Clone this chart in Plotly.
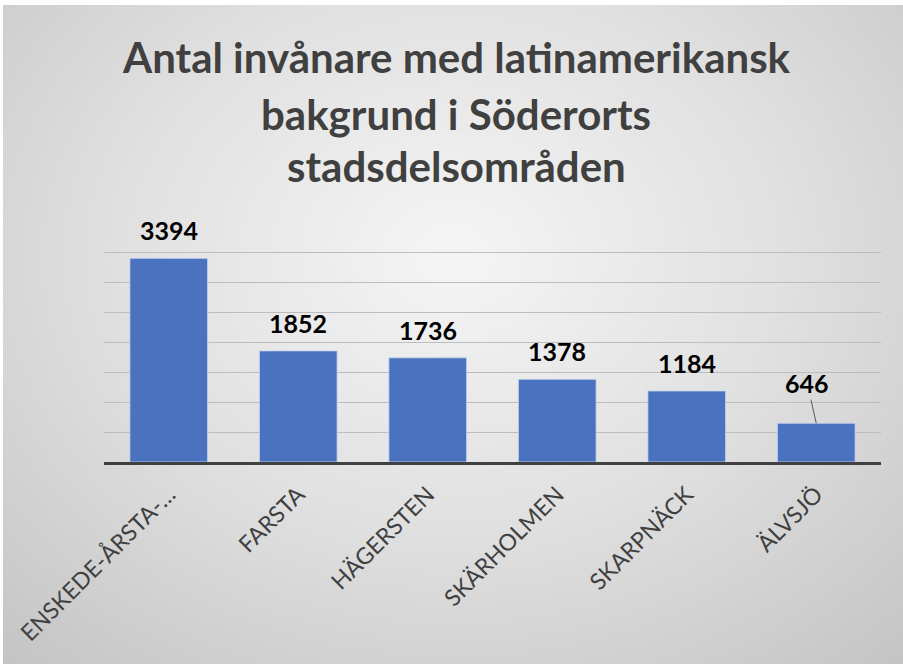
import numpy as np
import plotly.graph_objects as go

# ---- data ----
categories = ["ENSKEDE-ÅRSTA-…", "FARSTA", "HÄGERSTEN", "SKÄRHOLMEN", "SKARPNÄCK", "ÄLVSJÖ"]
values = [3394, 1852, 1736, 1378, 1184, 646]
title_lines = ["Antal invånare med latinamerikansk", "bakgrund i Söderorts", "stadsdelsområden"]

W, H = 903, 664

# ---- background radial gradient (style only) ----
gx = np.linspace(0, 1, 40)
gy = np.linspace(0, 1, 40)
XX, YY = np.meshgrid(gx, gy)
dist = np.sqrt(((XX - 0.5) * 1.0) ** 2 + ((YY - 0.62) * 0.9) ** 2)
dist = dist / dist.max()

fig = go.Figure()
fig.add_trace(go.Heatmap(
    x=gx, y=gy, z=dist, zmin=0, zmax=1, zsmooth="best",
    colorscale=[[0, "#f5f5f5"], [0.5, "#e0e0e0"], [1, "#c4c4c4"]],
    showscale=False, hoverinfo="skip", xaxis="x", yaxis="y",
))

fig.add_trace(go.Bar(
    x=categories, y=values, xaxis="x2", yaxis="y2",
    marker=dict(color="#4a72bf", line=dict(color="rgba(200,215,240,0.8)", width=1)),
    hoverinfo="skip",
))

label_font = dict(family="Lato", size=25, color="#000000")
annotations = []
for i, (c, v) in enumerate(zip(categories, values)):
    if i == len(values) - 1:
        annotations.append(dict(
            x=c, y=v, xref="x2", yref="y2", text="<b>" + str(v) + "</b>", showarrow=True,
            arrowhead=0, arrowwidth=1, arrowcolor="#595959", ax=-9, ay=-40,
            font=label_font,
        ))
    else:
        annotations.append(dict(
            x=c, y=v, xref="x2", yref="y2", text="<b>" + str(v) + "</b>", showarrow=False,
            yanchor="middle", yshift=28, font=label_font,
        ))

title_y = [57, 114, 166]
for t, yy in zip(title_lines, title_y):
    annotations.append(dict(
        x=456 / W, y=1 - yy / H, xref="paper", yref="paper", text="<b>" + t + "</b>",
        showarrow=False, xanchor="center", yanchor="middle",
        font=dict(family="Lato", size=42, color="#404040"),
    ))

fig.update_layout(
    width=W, height=H,
    margin=dict(l=0, r=0, t=0, b=0, autoexpand=False),
    paper_bgcolor="#ffffff",
    plot_bgcolor="rgba(0,0,0,0)",
    showlegend=False,
    bargap=0.4,
    xaxis=dict(domain=[3 / W, 1], range=[0, 1], visible=False, fixedrange=True, automargin=False),
    yaxis=dict(domain=[0, 1 - 5 / H], range=[0, 1], visible=False, fixedrange=True, automargin=False),
    xaxis2=dict(
        domain=[104 / W, 881 / W], anchor="y2", tickangle=-45,
        tickfont=dict(family="Lato", size=23, color="#404040"),
        showline=True, linecolor="#404040", linewidth=3, ticks="", showgrid=False,
        ticklabelstandoff=7, automargin=False,
    ),
    yaxis2=dict(
        domain=[1 - 462 / H, 1 - 222 / H], anchor="x2", range=[0, 4000], dtick=500,
        showticklabels=False, gridcolor="#bdbdbd", gridwidth=1, zeroline=False,
        showline=False, ticks="", automargin=False,
    ),
    annotations=annotations,
)

fig.write_html(
    "out.html",
    config={"displayModeBar": False},
    post_script="document.body.style.margin='0';document.body.style.overflow='hidden';",
)
